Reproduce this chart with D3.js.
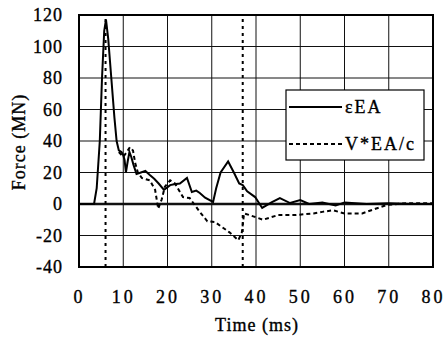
<!DOCTYPE html>
<html>
<head>
<meta charset="utf-8">
<script src="https://cdn.jsdelivr.net/npm/d3@7"></script>
<style>
  body { margin: 0; background: #fff; }
  text.lab { font-family: "Liberation Serif", serif; font-size: 18px; fill: #000; stroke: #000; stroke-width: 0.35px; }
</style>
</head>
<body>
<svg id="chart" width="448" height="345"></svg>
<script>
// strain based force (solid)
const strainTime = [0, 3.4, 4.0, 4.7, 5.2, 5.7, 6.1, 6.6, 7.3, 8.0, 8.5, 9.0, 9.6, 10.0, 10.3, 10.6, 11.0, 11.4, 11.8, 12.3, 13.0, 14.0, 15.0, 16.0, 17.0, 18.0, 19.2, 20.6, 21.5, 22.8, 24.4, 25.5, 26.5, 27.3, 28.5, 30.3, 31.0, 32.0, 33.7, 35.0, 36.2, 37.0, 38.0, 39.8, 41.4, 43.5, 45.4, 47.7, 50, 52, 55, 58, 60, 65, 70, 75, 80];
const strainForce = [0, 0, 10, 40, 80, 110, 117, 105, 80, 55, 40, 34, 33, 31, 28, 20, 27, 33, 30, 25, 19, 20, 21, 18.4, 16, 13, 9, 12, 12.5, 13, 16.5, 7.6, 8.5, 7, 4, 1.3, 10, 20, 27, 20, 13, 12, 8, 4.4, -2.5, 1, 3.8, 0.6, 2.5, 0, 1, -1, 1, 0, 0.5, 0, 0];

// velocity based force (dotted)
const velTime = [9.0, 10.0, 10.8, 11.5, 12.2, 12.7, 13.3, 14.2, 16.0, 17.2, 17.9, 18.7, 19.4, 20.6, 21.7, 23.5, 25.0, 27.3, 29.0, 30.7, 32.3, 34.0, 36.0, 36.8, 37.3, 38.5, 41.6, 45, 49, 53, 55, 57.4, 60, 64, 67, 69.6, 74, 80];
const velForce = [33, 30, 33, 36, 34, 26, 20, 16.5, 15, 9, -3, 3, 11, 15, 13, 4.4, 3.8, -5, -11, -11.4, -14.6, -18, -23, -18, -6, -7, -10, -7, -7, -6, -5, -4, -6, -6, -3, -0.6, 0.5, 0.5];

// vertical dotted marker lines
const markers = [6, 37];

const xTicks = [0, 10, 20, 30, 40, 50, 60, 70, 80];
const yTicks = [-40, -20, 0, 20, 40, 60, 80, 100, 120];

const legendNames = ["\u03b5EA", "V*EA/c"];

const margin = {top: 15, right: 15, bottom: 78, left: 79};
const svg = d3.select("#chart");
const width = +svg.attr("width") - margin.left - margin.right;
const height = +svg.attr("height") - margin.top - margin.bottom;

const x = d3.scaleLinear().domain([0, 80]).range([margin.left, margin.left + width]);
const y = d3.scaleLinear().domain([-40, 120]).range([margin.top + height, margin.top]);

// grid
svg.append("g")
    .selectAll("line")
    .data(xTicks.slice(1, -1))
    .enter().append("line")
    .attr("x1", d => x(d)).attr("x2", d => x(d))
    .attr("y1", y(-40)).attr("y2", y(120))
    .attr("stroke", "#111").attr("stroke-width", 1);

svg.append("g")
    .selectAll("line")
    .data(yTicks.slice(1, -1))
    .enter().append("line")
    .attr("x1", x(0)).attr("x2", x(80))
    .attr("y1", d => y(d)).attr("y2", d => y(d))
    .attr("stroke", "#111").attr("stroke-width", d => d === 0 ? 2.5 : 1);

// axes (labels only)
const xAxis = svg.append("g")
    .attr("transform", `translate(0,${y(-40)})`)
    .call(d3.axisBottom(x).tickValues(xTicks).tickFormat(d => String(d)).tickSize(0).tickPadding(23));
const yAxis = svg.append("g")
    .attr("transform", `translate(${x(0)},0)`)
    .call(d3.axisLeft(y).tickValues(yTicks).tickFormat(d => String(d)).tickSize(0).tickPadding(16));
[xAxis, yAxis].forEach(g => {
    g.attr("font-family", null).attr("font-size", null);
    g.select(".domain").remove();
    g.selectAll("text").attr("class", "lab");
});
xAxis.selectAll("text").style("letter-spacing", "3px");
yAxis.selectAll("text").style("letter-spacing", "1px");

// marker lines
svg.append("g")
    .selectAll("line")
    .data(markers)
    .enter().append("line")
    .attr("x1", d => x(d)).attr("x2", d => x(d))
    .attr("y1", y(-40)).attr("y2", y(120))
    .attr("stroke", "#000").attr("stroke-width", 2)
    .attr("stroke-dasharray", "3,4");

const line = d3.line().x(d => x(d[0])).y(d => y(d[1]));

svg.append("path")
    .datum(d3.zip(velTime, velForce))
    .attr("d", line)
    .attr("fill", "none").attr("stroke", "#000")
    .attr("stroke-width", 2).attr("stroke-dasharray", "4,3");

svg.append("path")
    .datum(d3.zip(strainTime, strainForce))
    .attr("d", line)
    .attr("fill", "none").attr("stroke", "#000")
    .attr("stroke-width", 2);

// frame
svg.append("rect")
    .attr("x", x(0)).attr("y", y(120))
    .attr("width", x(80) - x(0)).attr("height", y(-40) - y(120))
    .attr("fill", "none").attr("stroke", "#000").attr("stroke-width", 2);

// legend
const lg = svg.append("g").attr("transform", "translate(286,90)");
lg.append("rect")
    .attr("width", 138).attr("height", 70)
    .attr("fill", "#fff").attr("stroke", "#000").attr("stroke-width", 1.2);
legendNames.forEach((name, i) => {
    const ly = 17 + i * 37;
    lg.append("line")
        .attr("x1", 3).attr("x2", 56).attr("y1", ly).attr("y2", ly)
        .attr("stroke", "#000").attr("stroke-width", 2)
        .attr("stroke-dasharray", i === 0 ? null : "4,3");
    lg.append("text")
        .attr("class", "lab")
        .attr("x", 59).attr("y", ly + 6)
        .style("letter-spacing", "2px")
        .text(name);
});

// axis titles
svg.append("text")
    .attr("class", "lab")
    .attr("x", 257).attr("y", 331)
    .attr("text-anchor", "middle")
    .style("letter-spacing", "1px")
    .text("Time (ms)");

svg.append("text")
    .attr("class", "lab")
    .attr("transform", "translate(25,142) rotate(-90)")
    .attr("text-anchor", "middle")
    .style("letter-spacing", "1px")
    .text("Force (MN)");
</script>
</body>
</html>
